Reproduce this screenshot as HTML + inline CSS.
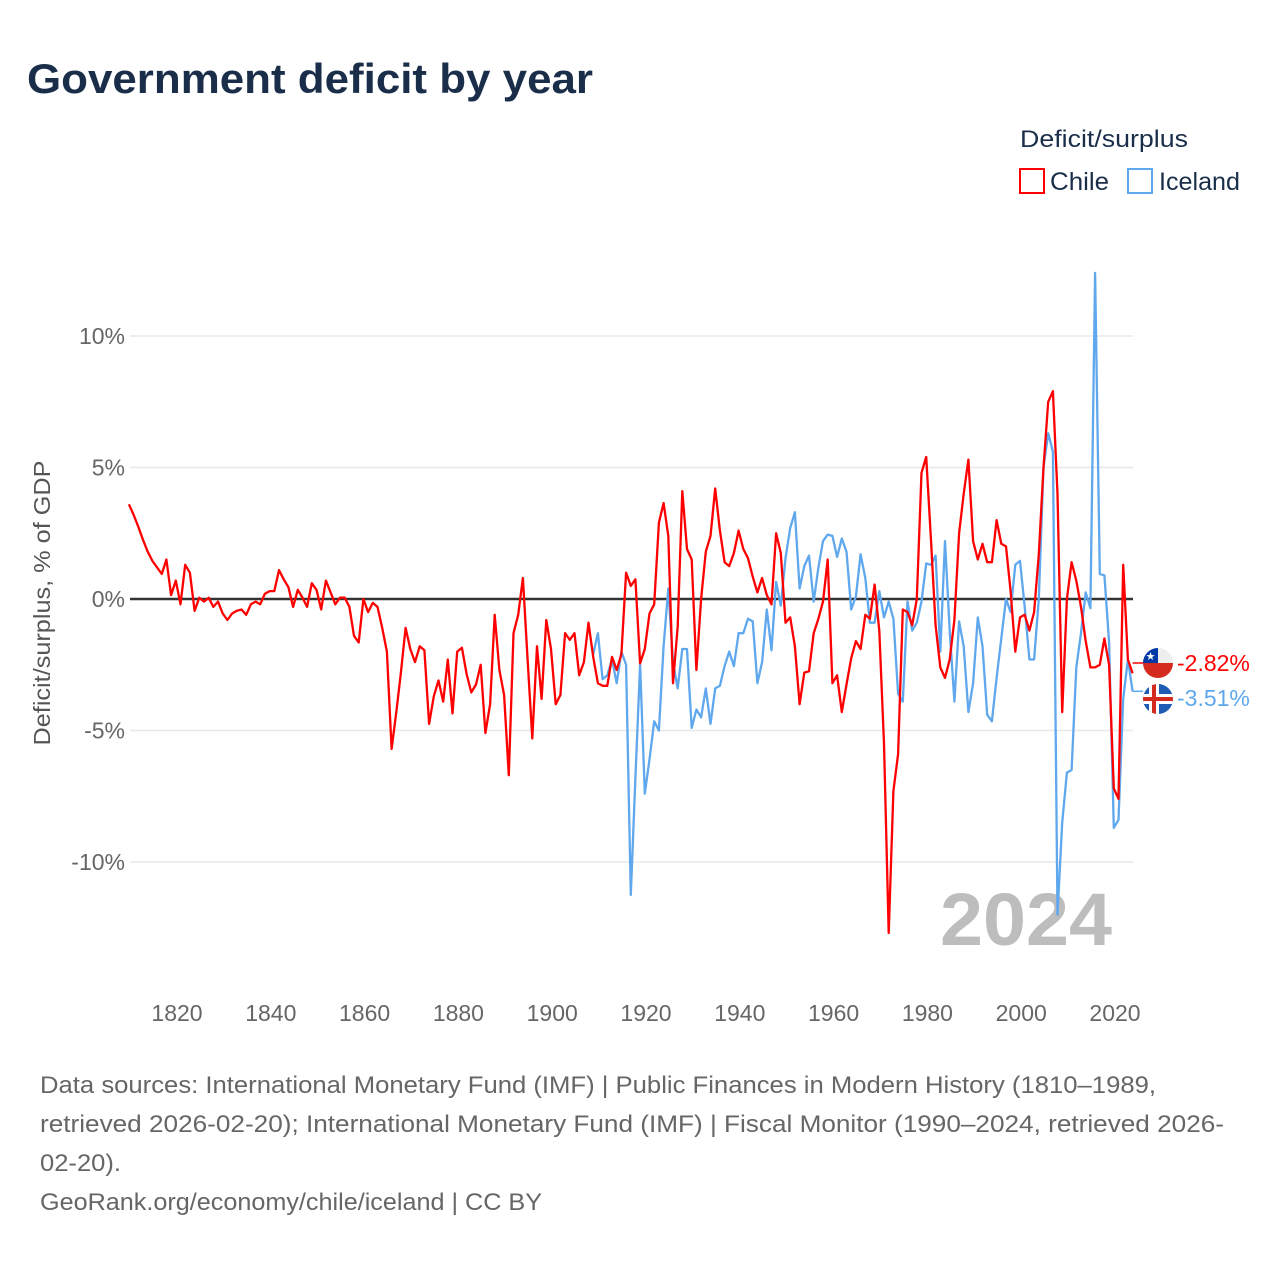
<!DOCTYPE html>
<html><head><meta charset="utf-8"><style>
html,body{margin:0;padding:0;background:#fff;}
svg{display:block;font-family:"Liberation Sans",sans-serif;}
</style></head><body>
<svg id="chart" width="1280" height="1280" viewBox="0 0 1280 1280" xmlns="http://www.w3.org/2000/svg">
<rect width="1280" height="1280" fill="#fff"/>
<text x="27" y="93" font-size="42" font-weight="bold" fill="#1a2e4a" textLength="566" lengthAdjust="spacingAndGlyphs">Government deficit by year</text>
<g>
<text x="1020" y="147" font-size="24" fill="#1a2e4a" textLength="168" lengthAdjust="spacingAndGlyphs">Deficit/surplus</text>
<g><rect x="1020" y="169" width="24" height="24" fill="none" stroke="#f00" stroke-width="2"/><text x="1050" y="190" font-size="25" fill="#1a2e4a" textLength="59" lengthAdjust="spacingAndGlyphs">Chile</text></g>
<g><rect x="1128" y="169" width="24" height="24" fill="none" stroke="#5fa8ee" stroke-width="2"/><text x="1159" y="190" font-size="25" fill="#1a2e4a" textLength="81" lengthAdjust="spacingAndGlyphs">Iceland</text></g>
</g>
<g id="grid"></g>
<g id="yticks"></g>
<g id="xticks"></g>
<text transform="translate(50,603) rotate(-90)" text-anchor="middle" font-size="23" fill="#555" textLength="285" lengthAdjust="spacingAndGlyphs">Deficit/surplus, % of GDP</text>
<text x="1112" y="945" text-anchor="end" font-size="74" font-weight="bold" fill="#bdbdbd" textLength="172" lengthAdjust="spacingAndGlyphs">2024</text>
<g id="series"></g>
<g id="endlabels"></g>
<g font-size="24" fill="#666">
<text x="40" y="1093" textLength="1116" lengthAdjust="spacingAndGlyphs">Data sources: International Monetary Fund (IMF) | Public Finances in Modern History (1810–1989,</text>
<text x="40" y="1132" textLength="1184" lengthAdjust="spacingAndGlyphs">retrieved 2026-02-20); International Monetary Fund (IMF) | Fiscal Monitor (1990–2024, retrieved 2026-</text>
<text x="40" y="1171" textLength="81" lengthAdjust="spacingAndGlyphs">02-20).</text>
<text x="40" y="1210" textLength="502" lengthAdjust="spacingAndGlyphs">GeoRank.org/economy/chile/iceland | CC BY</text>
</g>
</svg>
<script>
const chileStart = 1810;
const chileValues = [
3.6,3.2,2.75,2.25,1.8,1.45,1.2,0.95,1.5,0.15,
0.7,-0.2,1.3,1.0,-0.45,0.05,-0.1,0.05,-0.3,-0.1,
-0.55,-0.8,-0.55,-0.45,-0.4,-0.6,-0.2,-0.1,-0.2,0.2,
0.3,0.3,1.1,0.75,0.45,-0.3,0.35,0.05,-0.3,0.6,
0.35,-0.4,0.7,0.25,-0.2,0.05,0.05,-0.3,-1.4,-1.65,
0,-0.5,-0.15,-0.3,-1.1,-2.0,-5.7,-4.3,-2.8,-1.1,
-1.9,-2.4,-1.8,-1.95,-4.75,-3.7,-3.1,-3.9,-2.3,-4.35,
-2.0,-1.85,-2.85,-3.55,-3.25,-2.5,-5.1,-4.0,-0.6,-2.7,
-3.65,-6.7,-1.3,-0.6,0.8,-2.3,-5.3,-1.8,-3.8,-0.8,
-1.9,-4.0,-3.65,-1.3,-1.55,-1.3,-2.9,-2.4,-0.9,-2.2,
-3.2,-3.3,-3.3,-2.2,-2.7,-2.1,1.0,0.5,0.75,-2.45,
-1.9,-0.55,-0.2,2.9,3.65,2.4,-3.2,-1.05,4.1,1.9,
1.5,-2.7,0,1.8,2.4,4.2,2.6,1.4,1.25,1.75,
2.6,1.9,1.55,0.85,0.25,0.8,0.15,-0.2,2.5,1.75,
-0.9,-0.7,-1.8,-4.0,-2.8,-2.75,-1.3,-0.75,-0.1,1.5,
-3.2,-2.9,-4.3,-3.25,-2.25,-1.6,-1.9,-0.6,-0.75,0.55,
-1.2,-5.5,-12.7,-7.3,-5.9,-0.4,-0.5,-1.0,0,4.8,
5.4,2.3,-1.0,-2.6,-3.0,-2.3,-0.8,2.5,4.0,5.3,
2.2,1.5,2.1,1.4,1.4,3.0,2.1,2.0,0.3,-2.0,
-0.7,-0.6,-1.2,-0.5,1.7,5.0,7.5,7.9,4.0,-4.3,
0,1.4,0.7,-0.3,-1.6,-2.6,-2.6,-2.5,-1.5,-2.5,
-7.2,-7.6,1.3,-2.3,-2.82];
const icelandStart = 1909;
const icelandValues = [
-2.1,
-1.3,-3.05,-2.9,-2.3,-3.2,-2.0,-2.5,-11.25,-6.8,-2.5,
-7.4,-6.1,-4.65,-5.0,-1.8,0.4,-2.4,-3.4,-1.9,-1.9,
-4.9,-4.2,-4.5,-3.4,-4.75,-3.4,-3.3,-2.55,-2.0,-2.55,
-1.3,-1.3,-0.75,-0.85,-3.2,-2.4,-0.4,-1.95,0.65,-0.25,
1.55,2.7,3.3,0.4,1.25,1.65,-0.1,1.2,2.2,2.45,
2.4,1.6,2.3,1.8,-0.4,0.1,1.7,0.8,-0.9,-0.9,
0.3,-0.7,-0.1,-0.75,-3.6,-3.9,-0.1,-1.2,-0.9,-0.1,
1.35,1.3,1.65,-2.0,2.2,-1.2,-3.9,-0.85,-1.8,-4.3,
-3.2,-0.7,-1.8,-4.4,-4.65,-3.0,-1.5,0,-0.5,1.3,
1.45,-0.3,-2.3,-2.3,0,5.0,6.3,5.6,-12.0,-8.5,
-6.6,-6.5,-2.6,-1.3,0.25,-0.35,12.4,0.95,0.9,-1.65,
-8.7,-8.4,-3.8,-2.3,-3.51];
const yTickValues = [10,5,0,-5,-10];
const yTickLabels = ["10%","5%","0%","-5%","-10%"];
const xTickYears = [1820,1840,1860,1880,1900,1920,1940,1960,1980,2000,2020];

const NS="http://www.w3.org/2000/svg";
function xS(yr){return 177+(yr-1820.25)*4.69;}
function xT(yr){return 177+(yr-1820)*4.69;}
function yS(v){return 599-v*26.3;}
function mk(tag,attrs,parent){const e=document.createElementNS(NS,tag);for(const k in attrs)e.setAttribute(k,attrs[k]);parent.appendChild(e);return e;}

const grid=document.getElementById('grid'), yt=document.getElementById('yticks'), xt=document.getElementById('xticks');
yTickValues.forEach((v,i)=>{
  const l=mk('line',{x1:130,x2:1133,y1:yS(v),y2:yS(v),stroke:v===0?'#333':'#e8e8e8','stroke-width':v===0?2.5:1.5},grid);
  
  
  const t=mk('text',{x:125,y:yS(v)+8,'text-anchor':'end','font-size':23,fill:'#666'},yt);
  
  
  t.textContent=yTickLabels[i];
});
xTickYears.forEach(yr=>{
  const t=mk('text',{x:xT(yr),y:1021,'text-anchor':'middle','font-size':23,fill:'#666'},xt);
  
  
  t.textContent=yr;
});
const ser=document.getElementById('series');
function drawLine(start,vals,color,name){
  const pts=vals.map((v,i)=>xS(start+i).toFixed(1)+','+yS(v).toFixed(1)).join(' ');
  const p=mk('polyline',{points:pts,fill:'none',stroke:color,'stroke-width':2.3,'stroke-linejoin':'round'},ser);
  
  
}
drawLine(icelandStart,icelandValues,'#5fa8ee','iceland-line');
drawLine(chileStart,chileValues,'#f00','chile-line');

const el=document.getElementById('endlabels');
const cLast=chileValues[chileValues.length-1], iLast=icelandValues[icelandValues.length-1];
const cx0=xS(chileStart+chileValues.length-1), ix0=xS(icelandStart+icelandValues.length-1);
mk('line',{x1:cx0,y1:663,x2:1143,y2:663,stroke:'#f00','stroke-width':1.5},el);
mk('line',{x1:ix0,y1:yS(iLast),x2:1143,y2:yS(iLast),stroke:'#5fa8ee','stroke-width':1.5},el);
// Chile flag
const cf=mk('g',{},el);


const cp1=mk('clipPath',{id:'cc'},cf);mk('circle',{cx:1158,cy:663,r:15},cp1);
const cg=mk('g',{'clip-path':'url(#cc)'},cf);
mk('rect',{x:1143,y:648,width:30,height:15,fill:'#eee'},cg);
mk('rect',{x:1143,y:663,width:30,height:15,fill:'#d52b1e'},cg);
mk('rect',{x:1143,y:648,width:15,height:15,fill:'#0039a6'},cg);
mk('text',{x:1150.5,y:660,'text-anchor':'middle','font-size':11,fill:'#fff'},cg).textContent='★';
// Iceland flag
const ifl=mk('g',{},el);


const cp2=mk('clipPath',{id:'ic'},ifl);mk('circle',{cx:1158,cy:699,r:15},cp2);
const ig=mk('g',{'clip-path':'url(#ic)'},ifl);
mk('rect',{x:1143,y:684,width:30,height:30,fill:'#1d5bb5'},ig);
mk('rect',{x:1143,y:694,width:30,height:10,fill:'#fff'},ig);
mk('rect',{x:1149,y:684,width:10,height:30,fill:'#fff'},ig);
mk('rect',{x:1143,y:697,width:30,height:4,fill:'#d52b1e'},ig);
mk('rect',{x:1152,y:684,width:4,height:30,fill:'#d52b1e'},ig);
const ct=mk('text',{x:1177,y:671,'font-size':23,fill:'#f00'},el);


ct.textContent=cLast.toFixed(2)+'%';
const it=mk('text',{x:1177,y:706,'font-size':23,fill:'#5fa8ee'},el);


it.textContent=iLast.toFixed(2)+'%';
</script>
</body></html>
